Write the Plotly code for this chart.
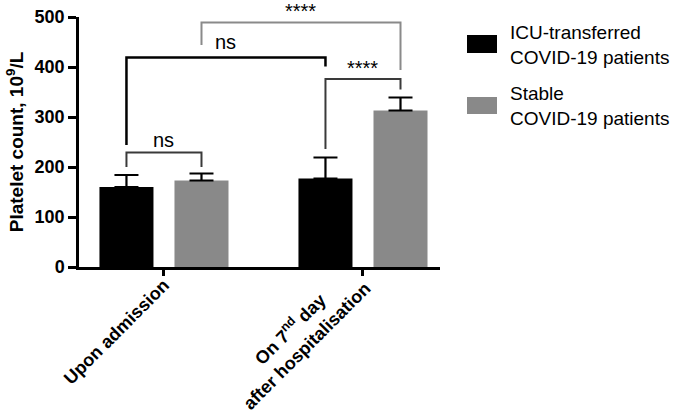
import plotly.graph_objects as go

# ---- data ----
categories = ["Upon admission", "On 7<sup>nd</sup> day<br>after hospitalisation"]
icu_mean = [160, 177]
icu_err = [24, 42]
stable_mean = [173, 313]
stable_err = [14, 26]
series_names = ["ICU-transferred<br>COVID-19 patients", "Stable<br>COVID-19 patients"]
series_colors = ["#000000", "#898989"]
y_ticks = [0, 100, 200, 300, 400, 500]
Y_MAX = 500

# brackets: (left bar, right bar, top y, left foot y, right foot y, label, label y, colour, width)
# bars are identified as (category index, series index)
brackets = [
    ((0, 0), (0, 1), 229, 200, 200, "ns", 254, "#3a3a3a", 2),
    ((0, 0), (1, 0), 419, 244, 401, "ns", 450, "#000000", 2.5),
    ((1, 0), (1, 1), 376, 236, 355, "****", 398, "#3a3a3a", 2),
    ((0, 1), (1, 1), 489, 444, 394, "****", 512, "#8a8a8a", 2),
]

FONT = "Arial, Liberation Sans, sans-serif"
BARGAP = 0.246
GROUPGAP = 0.28
slot = (1 - BARGAP) / 2

FIG_W, FIG_H = 683, 420
PLOT_L, PLOT_R, PLOT_T, PLOT_B = 79, 440, 17, 267   # plot area in pixels
LABEL_SHIFTS = [(12, -6), (14, 10)]                  # pixel nudges of the rotated category labels


def bar_center(ref):
    cat, ser = ref
    return cat + (ser - 0.5) * slot


fig = go.Figure()
for name, mean, err, col in [
    (series_names[0], icu_mean, icu_err, series_colors[0]),
    (series_names[1], stable_mean, stable_err, series_colors[1]),
]:
    fig.add_trace(go.Bar(
        x=categories, y=mean, name=name, marker=dict(color=col, line=dict(width=0)),
        error_y=dict(type="data", symmetric=False, array=err, arrayminus=[0] * len(err),
                     color="#000000", thickness=2.2, width=12),
        showlegend=False, hoverinfo="skip",
    ))

shapes = []
annotations = []
for left, right, top, lfoot, rfoot, label, ly, col, w in brackets:
    x0 = bar_center(left)
    x1 = bar_center(right)
    shapes.append(dict(type="path", xref="x", yref="y",
                       path=f"M {x0},{lfoot} L {x0},{top} L {x1},{top} L {x1},{rfoot}",
                       line=dict(color=col, width=w)))
    annotations.append(dict(x=(x0 + x1) / 2, y=ly / Y_MAX, xref="x", yref="y domain", text=label,
                            showarrow=False, yanchor="middle",
                            font=dict(family=FONT, size=20, color="#000000"),
                            ))

# category labels: rotated, multi-line centred (as in the reference)
for cat, (dx, dy) in zip(categories, LABEL_SHIFTS):
    annotations.append(dict(x=cat, y=0, xref="x", yref="y domain", text=cat, showarrow=False,
                            textangle=-45, align="center", xanchor="right", yanchor="top",
                            xshift=dx, yshift=dy,
                            font=dict(family=FONT, size=18, color="#000000", weight="bold")))

# manual legend (large swatches like the reference)
plot_w, plot_h = PLOT_R - PLOT_L, PLOT_B - PLOT_T
def px2paper_x(px):
    return (px - PLOT_L) / plot_w
def px2paper_y(py):
    return (PLOT_B - py) / plot_h

leg_rows = [(35, 53, 44.5), (97, 114, 105.5)]
for (t, b, c), name, col in zip(leg_rows, series_names, series_colors):
    shapes.append(dict(type="rect", xref="paper", yref="paper",
                       x0=px2paper_x(467), x1=px2paper_x(497),
                       y0=px2paper_y(b), y1=px2paper_y(t),
                       fillcolor=col, line=dict(width=0)))
    annotations.append(dict(x=px2paper_x(508), y=px2paper_y(c), xref="paper", yref="paper",
                            text=name, showarrow=False, xanchor="left", yanchor="middle",
                            align="left", font=dict(family=FONT, size=19, color="#000000")))

fig.update_layout(
    width=FIG_W, height=FIG_H,
    margin=dict(l=PLOT_L, r=FIG_W - PLOT_R, t=PLOT_T, b=FIG_H - PLOT_B),
    paper_bgcolor="white", plot_bgcolor="white",
    barmode="group", bargap=BARGAP, bargroupgap=GROUPGAP,
    shapes=shapes, annotations=annotations,
    font=dict(family=FONT, color="#000000"),
    xaxis=dict(range=[-0.427, 1.387], showline=True, linecolor="#000000", linewidth=2.5,
               ticks="outside", ticklen=6, tickwidth=2.5, tickcolor="#000000", automargin=False,
               showticklabels=False, showgrid=False, zeroline=False),
    yaxis=dict(range=[0, Y_MAX], tickvals=y_ticks, showline=True, linecolor="#000000", linewidth=2.5,
               ticks="outside", ticklen=8, tickwidth=2.5, tickcolor="#000000", automargin=False,
               tickfont=dict(family=FONT, size=18, color="#000000", weight="bold"),
               showgrid=False, zeroline=False,
               title=dict(text="Platelet count, 10<sup>9</sup>/L", standoff=6,
                          font=dict(family=FONT, size=19, color="#000000", weight="bold"))),
)

# remove the default 8px page margin so the figure sits at the window's corner
fig.write_html("out.html", config={"displayModeBar": False},
               post_script="document.body.style.margin='0';")
